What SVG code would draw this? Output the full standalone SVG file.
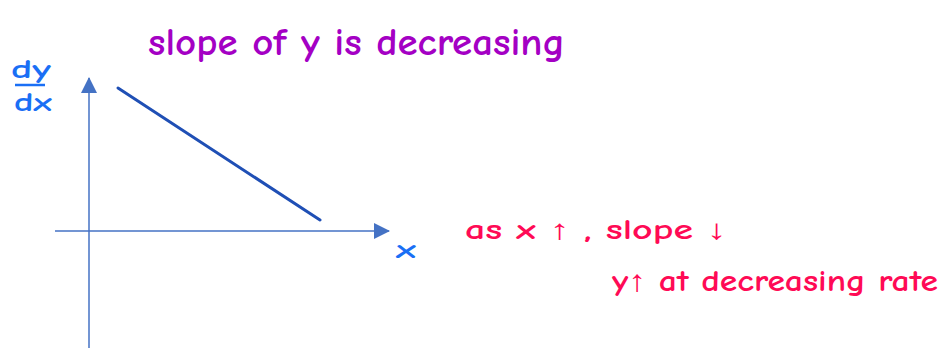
<svg xmlns="http://www.w3.org/2000/svg" width="943" height="349" viewBox="0 0 943 349">
<style>
.hand{font-family:"Comic Neue","Liberation Sans","DejaVu Sans",sans-serif;font-weight:bold;}
.blue{fill:#1a6ff5;}
.purple{fill:#a400c4;}
.pink{fill:#ff0a55;}
.axis{stroke:#4472c4;stroke-width:1.5;fill:none;}
</style>
<defs>
<marker id="ah" viewBox="0 0 16 16" refX="15" refY="8" markerWidth="16" markerHeight="16" markerUnits="userSpaceOnUse" orient="auto">
<path d="M0,0 L16,8 L0,16 Z" fill="#4472c4"/>
</marker>
</defs>
<g id="axes">
<line class="axis" x1="89" y1="348" x2="89" y2="78" marker-end="url(#ah)"/>
<line class="axis" x1="55" y1="231" x2="389" y2="231" marker-end="url(#ah)"/>
</g>
<g id="graph-line">
<line x1="118" y1="88" x2="320" y2="220" stroke="#1f4fb5" stroke-width="3" stroke-linecap="round"/>
</g>
<g id="labels">
<text class="hand blue" x="11" y="78" font-size="26" textLength="40" lengthAdjust="spacingAndGlyphs">dy</text>
<line x1="15" y1="85" x2="45" y2="85" stroke="#1a6ff5" stroke-width="2.5"/>
<text class="hand blue" x="14" y="111" font-size="26" textLength="38" lengthAdjust="spacingAndGlyphs">dx</text>
<text class="hand blue" x="396" y="258" font-size="26" textLength="20" lengthAdjust="spacingAndGlyphs">x</text>
<text class="hand purple" x="148" y="55" font-size="38" textLength="417" lengthAdjust="spacingAndGlyphs">slope of y is decreasing</text>
<text class="hand pink" x="465" y="239" font-size="28" textLength="262" lengthAdjust="spacingAndGlyphs">as x ↑ ,  slope ↓</text>
<text class="hand pink" x="612" y="291" font-size="30" textLength="326" lengthAdjust="spacingAndGlyphs">y↑ at decreasing rate</text>
</g>
</svg>
